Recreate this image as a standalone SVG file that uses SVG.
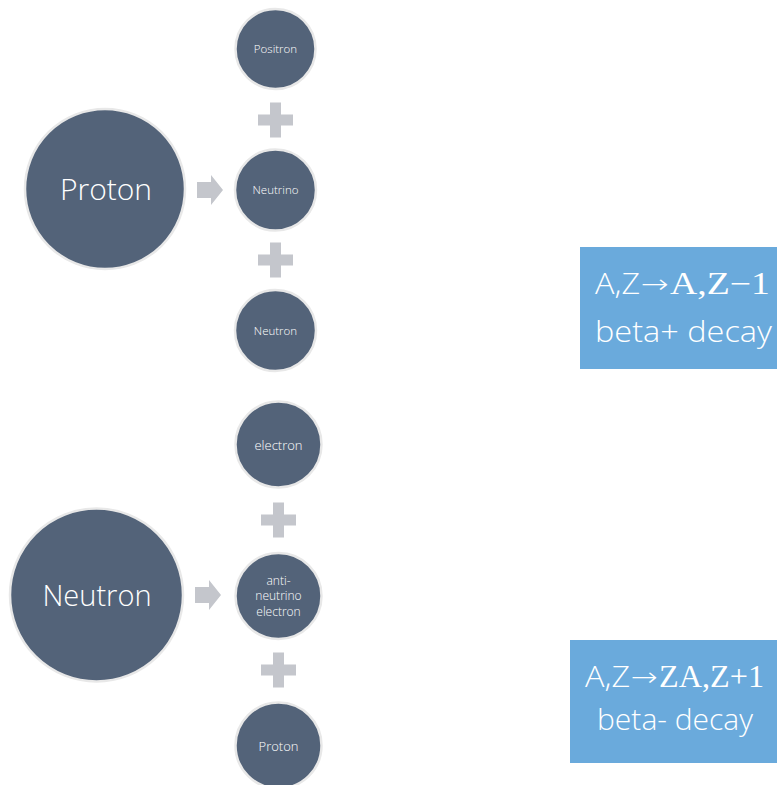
<svg xmlns="http://www.w3.org/2000/svg" width="777" height="785" viewBox="0 0 777 785">
<style>
.c{fill:#536379;stroke:#e8e8e8;stroke-width:2.5}
.t{fill:#ffffff;font-family:"Open Sans","Liberation Sans",sans-serif;font-weight:300;text-anchor:middle}
.s{fill:#ffffff;font-family:"Open Sans","Liberation Sans",sans-serif;font-weight:300;text-anchor:middle}
.p{fill:#c4c6cc}
.box{fill:#6aaadc}
.bt{fill:#ffffff;font-family:"Open Sans","Liberation Sans",sans-serif;font-weight:300}
.ar{fill:#ffffff;font-family:"DejaVu Sans","Liberation Sans",sans-serif;font-weight:300}
.m{fill:#ffffff;font-family:"Liberation Serif","DejaVu Serif",serif;font-weight:normal}
</style>
<defs>
<path id="plus" class="p" d="M-5.5,-17.5 H5.5 V-5.5 H17.5 V5.5 H5.5 V17.5 H-5.5 V5.5 H-17.5 V-5.5 H-5.5 Z"/>
<path id="arr" class="p" d="M-13,-8 H1 V-15 L13,0 L1,15 V8 H-13 Z"/>
</defs>
<rect width="777" height="785" fill="#ffffff"/>
<g id="connectors">
<use href="#plus" x="275.5" y="120"/>
<use href="#plus" x="275.5" y="260"/>
<use href="#arr" x="210" y="190"/>
<use href="#plus" x="278.5" y="520"/>
<use href="#plus" x="278.5" y="670"/>
<use href="#arr" x="208" y="595"/>
</g>
<g id="proton-big"><circle class="c" cx="105" cy="189" r="80"/><text class="t" x="106" y="200" font-size="30">Proton</text></g>
<g id="positron"><circle class="c" cx="275.5" cy="49" r="40"/><text class="s" x="275.5" y="53" font-size="11.5">Positron</text></g>
<g id="neutrino"><circle class="c" cx="275.5" cy="190" r="40.5"/><text class="s" x="275.5" y="194" font-size="11.5">Neutrino</text></g>
<g id="neutron-small"><circle class="c" cx="275.5" cy="330.5" r="40.5"/><text class="s" x="275.5" y="334.5" font-size="11.5">Neutron</text></g>
<g id="neutron-big"><circle class="c" cx="96.5" cy="595" r="86.5"/><text class="t" x="97" y="606" font-size="29">Neutron</text></g>
<g id="electron"><circle class="c" cx="278.5" cy="444.5" r="43"/><text class="s" x="278.5" y="449.5" font-size="13">electron</text></g>
<g id="antineutrino"><circle class="c" cx="278.5" cy="596" r="43"/><text class="s" font-size="12"><tspan x="278.5" y="584.5">anti-</tspan><tspan x="278.5" y="600">neutrino</tspan><tspan x="278.5" y="615.5">electron</tspan></text></g>
<g id="proton-small"><circle class="c" cx="278.5" cy="745.5" r="43"/><text class="s" x="278.5" y="750.5" font-size="13">Proton</text></g>
<g id="beta-plus">
<rect class="box" x="580" y="247" width="200" height="122"/>
<text class="bt" x="595" y="294" font-size="29" textLength="45" lengthAdjust="spacingAndGlyphs">A,Z</text>
<text class="ar" x="641" y="293" font-size="26" textLength="28" lengthAdjust="spacingAndGlyphs">→</text>
<text class="m" x="670" y="294" font-size="31" textLength="100" lengthAdjust="spacingAndGlyphs">A,Z−1</text>
<text class="bt" x="595" y="342" font-size="30" textLength="177" lengthAdjust="spacingAndGlyphs">beta+ decay</text>
</g>
<g id="beta-minus">
<rect class="box" x="570" y="640" width="210" height="123"/>
<text class="bt" x="585" y="687" font-size="29" textLength="45" lengthAdjust="spacingAndGlyphs">A,Z</text>
<text class="ar" x="631" y="686" font-size="26" textLength="27" lengthAdjust="spacingAndGlyphs">→</text>
<text class="m" x="659" y="687" font-size="31" textLength="105" lengthAdjust="spacingAndGlyphs">ZA,Z+1</text>
<text class="bt" x="597" y="730" font-size="30" textLength="156" lengthAdjust="spacingAndGlyphs">beta- decay</text>
</g>
</svg>
